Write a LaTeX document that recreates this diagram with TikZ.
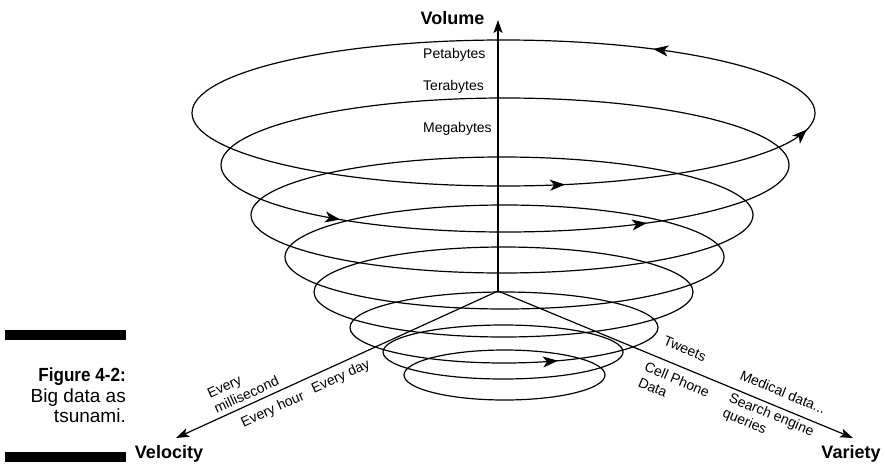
\documentclass[tikz,border=0pt]{standalone}
\usepackage{fontspec}
\setmainfont{Liberation Sans}
\newfontfamily\capfont{Liberation Sans}[FakeStretch=0.9]
\usetikzlibrary{arrows.meta}

\begin{document}
\begin{tikzpicture}[x=1pt,y=-1pt,
  coil/.style={line width=1.2pt},
  axis/.style={line width=1.2pt,-{Stealth[length=13pt,width=9pt,inset=3pt]}},
  flow/.style={line width=1.2pt,-{Stealth[length=15pt,width=11pt,inset=4pt]}},
  lab/.style={font=\fontsize{14}{16.5}\selectfont,inner sep=0pt},
  axtitle/.style={font=\fontsize{18}{21}\selectfont\bfseries,inner sep=0pt},
  capline/.style={inner sep=0pt,anchor=base east}]
\useasboundingbox (0,0) rectangle (885,466);

% stacked rings of the funnel: (cx, cy, x radius, y radius)
\foreach \cx/\cy/\a/\b in {503.5/113/311.5/73, 505/165/284/67, 502/215/251/58,
    504.5/257/219.5/52, 503.5/292/189.5/45, 504/327.5/154/35.5,
    503/352/120/27, 504.5/375/100.5/25}
  \draw[coil] (\cx,\cy) ellipse [x radius=\a, y radius=\b];

% direction markers on the rings: cx, cy, a, b, angle of the tip
\foreach \cx/\cy/\a/\b/\t in {503.5/113/311.5/73/298.7, 503.5/113/311.5/73/78.6,
    503.5/113/311.5/73/13, 505/165/284/67/125.5, 505/165/284/67/60,
    504/327.5/154/35.5/69.5}
  \draw[flow] ({\cx+\a*cos(\t+2)},{\cy+\b*sin(\t+2)}) -- ({\cx+\a*cos(\t)},{\cy+\b*sin(\t)});

% axes
\coordinate (O) at (498,291);
\coordinate (volTip) at (498,20);
\coordinate (velTip) at (176,438);
\coordinate (varTip) at (853,438);
\draw[axis] (O) -- (volTip);
\draw[axis] (O) -- (velTip);
\draw[axis] (O) -- (varTip);

\node[axtitle] (volume) at (452.5,18.5) {Volume};
\node[axtitle,anchor=base] (velocity) at (169,458) {Velocity};
\node[axtitle,anchor=base] (variety) at (851,458) {Variety};

% volume scale
\node[lab,anchor=west] (peta) at (423,55) {Petabytes};
\node[lab,anchor=west] (tera) at (423,87) {Terabytes};
\node[lab,anchor=west] (mega) at (423,129) {Megabytes};

% velocity scale
\node[lab,rotate=24.5,align=left] (ms) at (243,387) {Every\\millisecond};
\node[lab,rotate=24.5] (hour) at (273,410) {Every hour};
\node[lab,rotate=24.5] (day) at (341,377) {Every day};

% variety scale
\node[lab,rotate=-22.5] (tweets) at (685,349) {Tweets};
\node[lab,rotate=-22.5,align=left] (cell) at (674,387) {Cell Phone\\Data};
\node[lab,rotate=-22.5] (medical) at (783,392) {Medical data...};
\node[lab,rotate=-22.5,align=left] (search) at (768,423) {Search engine\\queries};

% caption block
\fill (5,330) rectangle (126,340);
\fill (5,452) rectangle (126,462);
\node[capline,font=\capfont\fontsize{19}{21}\selectfont\bfseries] (fig) at (126,381.5) {Figure 4-2:};
\node[capline,font=\fontsize{19}{21}\selectfont] (cap1) at (126,402) {Big data as};
\node[capline,font=\fontsize{19}{21}\selectfont] (cap2) at (126,422.5) {tsunami.};
\end{tikzpicture}
\end{document}
